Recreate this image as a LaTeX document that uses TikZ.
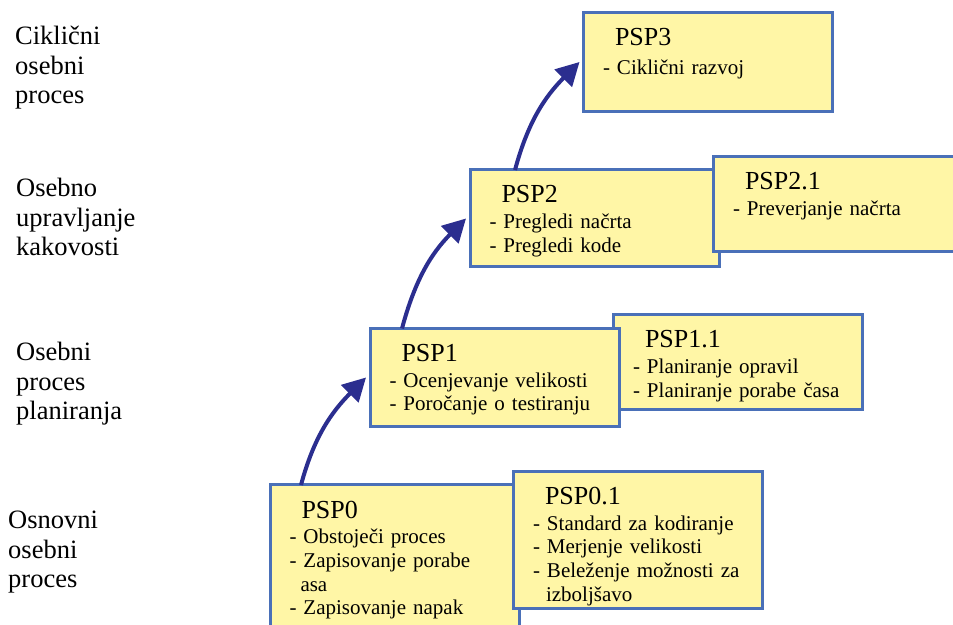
\documentclass[tikz,border=0pt]{standalone}
\usepackage{fontspec}
\setmainfont{Liberation Serif}
\usetikzlibrary{arrows.meta}

\newcommand{\psptitle}[1]{\hspace*{12pt}{\fontsize{26}{30}\selectfont #1}}

\begin{document}
\begin{tikzpicture}[x=1pt, y=1pt]
  \definecolor{boxblue}{HTML}{4A70B8}
  \definecolor{boxyellow}{HTML}{FFF6A6}
  \definecolor{arrowblue}{HTML}{2B2E8F}
  \tikzstyle{pspbox}=[draw=boxblue, fill=boxyellow, line width=3pt, anchor=north west, outer sep=0pt,
    inner xsep=19.5pt, inner ysep=16pt, text width=210pt, text height=17pt, align=left,
    font=\fontsize{21}{23.7}\selectfont]
  \tikzstyle{level}=[anchor=north west, inner sep=0pt, align=left,
    font=\fontsize{26.5}{29.5}\selectfont]
  \tikzstyle{uparrow}=[arrowblue, line width=4pt, -{Triangle[length=23pt, width=24pt]}]

  \useasboundingbox (0,0) rectangle (953,624);
  \clip (0,0) rectangle (953,624);

  % levels
  \node[level] (lvl3) at (15,598) {Ciklični\\osebni\\proces};
  \node[level] (lvl2) at (16,446) {Osebno\\upravljanje\\kakovosti};
  \node[level] (lvl1) at (16,282) {Osebni\\proces\\planiranja};
  \node[level] (lvl0) at (8,113) {Osnovni\\osebni\\proces};

  % boxes
  \node[pspbox, text depth=140pt] (psp0) at (270,139)
    {\psptitle{PSP0}\\[2pt]- Obstoječi proces\\- Zapisovanje porabe\\\hspace*{11pt}asa\\- Zapisovanje napak};
  \node[pspbox, text depth=88pt] (psp01) at (513.5,152.5)
    {\psptitle{PSP0.1}\\[2pt]- Standard za kodiranje\\- Merjenje velikosti\\- Beleženje možnosti za\\\hspace*{13pt}izboljšavo};
  \node[pspbox, text depth=46pt] (psp11) at (613.5,309)
    {\psptitle{PSP1.1}\\[2pt]- Planiranje opravil\\- Planiranje porabe časa};
  \node[pspbox, text depth=49pt] (psp1) at (370,295.5)
    {\psptitle{PSP1}\\[2pt]- Ocenjevanje velikosti\\- Poročanje o testiranju};
  \node[pspbox, text depth=48pt] (psp2) at (470,454)
    {\psptitle{PSP2}\\[2pt]- Pregledi načrta\\- Pregledi kode};
  \node[pspbox, text depth=46pt] (psp21) at (713.5,467.5)
    {\psptitle{PSP2.1}\\[2pt]- Preverjanje načrta};
  \node[pspbox, text depth=50pt] (psp3) at (583.5,611.5)
    {\psptitle{PSP3}\\[5pt]- Ciklični razvoj};

  % arrows
  \draw[uparrow] ([xshift=31pt]psp0.north west) to[out=75, in=225] ([xshift=-4pt]psp1.west);
  \draw[uparrow] ([xshift=32pt]psp1.north west) to[out=75, in=225] ([xshift=-4pt]psp2.west);
  \draw[uparrow] ([xshift=45pt]psp2.north west) to[out=75, in=225] ([xshift=-4pt]psp3.west);
\end{tikzpicture}
\end{document}
